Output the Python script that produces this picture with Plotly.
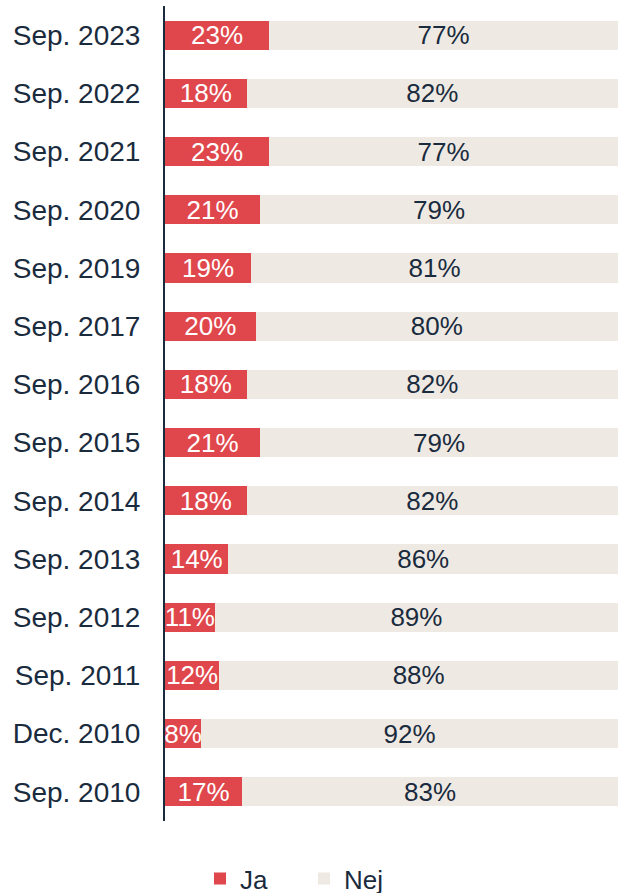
import plotly.graph_objects as go

categories = ["Sep. 2023", "Sep. 2022", "Sep. 2021", "Sep. 2020", "Sep. 2019", "Sep. 2017",
              "Sep. 2016", "Sep. 2015", "Sep. 2014", "Sep. 2013", "Sep. 2012", "Sep. 2011",
              "Dec. 2010", "Sep. 2010"]
ja_values = [23, 18, 23, 21, 19, 20, 18, 21, 18, 14, 11, 12, 8, 17]
nej_values = [77, 82, 77, 79, 81, 80, 82, 79, 82, 86, 89, 88, 92, 83]
series_names = ["Ja", "Nej"]

RED = "#E0474C"
BEIGE = "#EEEAE3"
NAVY = "#1A2B3E"
FONT = "Liberation Sans, Arial, sans-serif"

fig = go.Figure()
fig.add_trace(go.Bar(
    y=categories, x=ja_values, orientation="h", name=series_names[0],
    marker=dict(color=RED, line=dict(width=0)),
    text=[f"{v}%" for v in ja_values], textposition="inside", insidetextanchor="middle",
    textfont=dict(color="white", size=26, family=FONT), cliponaxis=False,
    hoverinfo="skip",
))
fig.add_trace(go.Bar(
    y=categories, x=nej_values, orientation="h", name=series_names[1],
    marker=dict(color=BEIGE, line=dict(width=0)),
    text=[f"{v}%" for v in nej_values], textposition="inside", insidetextanchor="middle",
    textfont=dict(color=NAVY, size=26, family=FONT), cliponaxis=False,
    hoverinfo="skip",
))

fig.update_layout(
    barmode="stack",
    bargap=0.5,
    width=618, height=893, autosize=False,
    margin=dict(l=165, r=0, t=6, b=72),
    paper_bgcolor="white", plot_bgcolor="white",
    font=dict(family=FONT, color=NAVY, size=27),
    uniformtext=dict(minsize=26, mode="show"),
    showlegend=True,
    legend=dict(orientation="h", xref="container", yref="container",
                x=200 / 618, y=0.016, xanchor="left", yanchor="middle",
                font=dict(size=26, color=NAVY), entrywidth=59, itemwidth=30,
                traceorder="normal"),
    xaxis=dict(range=[0, 100], visible=False, fixedrange=True),
    yaxis=dict(autorange="reversed", showline=True, linecolor=NAVY, linewidth=2,
               ticks="outside", ticklen=17, tickcolor="rgba(0,0,0,0)",
               tickfont=dict(size=28, color=NAVY, family=FONT), showgrid=False,
               automargin=False),
)

post = (
    "document.documentElement.style.margin='0';"
    "document.body.style.margin='0';document.body.style.padding='0';"
    "document.body.style.overflow='hidden';"
    "var gd=document.getElementById('{plot_id}');"
    "Plotly.relayout(gd,{width:618,height:893});"
)
fig.write_html("out.html", post_script=post,
               config={"responsive": False, "displayModeBar": False})
